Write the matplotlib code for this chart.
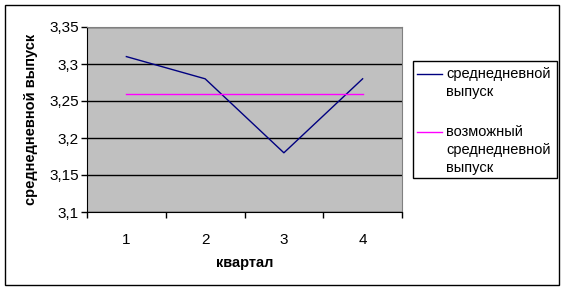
import matplotlib.pyplot as plt
from matplotlib.patches import Rectangle
from matplotlib.lines import Line2D

plt.rcParams['font.family'] = ['Liberation Sans', 'DejaVu Sans']

quarters = [1, 2, 3, 4]
actual = [3.31, 3.28, 3.18, 3.28]
possible = [3.26, 3.26, 3.26, 3.26]
yticks = [3.1, 3.15, 3.2, 3.25, 3.3, 3.35]
ytick_labels = ['3,1', '3,15', '3,2', '3,25', '3,3', '3,35']

W, H = 565, 291
fig = plt.figure(figsize=(W / 100, H / 100), dpi=100)


def fx(px):
    return px / W


def fy(py):
    return 1 - py / H


# outer chart border
fig.patches.append(Rectangle((fx(5), fy(285)), fx(559) - fx(5), fy(5) - fy(285),
                             transform=fig.transFigure, fill=False,
                             edgecolor='black', linewidth=1))

ax = fig.add_axes([fx(87), fy(212), fx(402) - fx(87), fy(27) - fy(212)])
ax.set_facecolor('#C0C0C0')

x = range(len(quarters))
ax.plot(x, actual, color='#000080', linewidth=1)
ax.plot(x, possible, color='#FF00FF', linewidth=1)

ax.set_xlim(-0.5, len(quarters) - 0.5)
ax.set_ylim(3.1, 3.35)
ax.set_yticks(yticks)
ax.set_yticklabels(ytick_labels, fontsize=11)
ax.set_xticks([i + 0.5 for i in range(-1, len(quarters))], minor=False)
ax.set_xticklabels([])
ax.set_xticks(list(x), minor=True)
ax.set_xticklabels([str(q) for q in quarters], minor=True, fontsize=11)
ax.tick_params(axis='x', which='minor', length=0, pad=15)
ax.tick_params(axis='x', which='major', length=4, direction='out', width=1)
ax.tick_params(axis='y', length=4, direction='out', width=1, pad=2)
ax.grid(axis='y', color='black', linewidth=1)

for s in ['top', 'right']:
    ax.spines[s].set_color('#808080')
for s in ['left', 'bottom']:
    ax.spines[s].set_color('black')

ax.set_xlabel('квартал', fontsize=10.5, fontweight='bold')
ax.xaxis.set_label_coords(0.5, (212 - 256) / 185)
ax.set_ylabel('среднедневной выпуск', fontsize=10.5, fontweight='bold')
ax.yaxis.set_label_coords((38 - 87) / 315, 0.5)

# legend drawn by hand so handles align with the first text line
fig.patches.append(Rectangle((fx(413), fy(178)), fx(557) - fx(413), fy(61) - fy(178),
                             transform=fig.transFigure, fill=True, facecolor='white',
                             edgecolor='black', linewidth=1))
entries = [
    ('#000080', ['среднедневной', 'выпуск'], 74),
    ('#FF00FF', ['возможный', 'среднедневной', 'выпуск'], 132),
]
for color, lines, y0 in entries:
    fig.lines.append(Line2D([fx(417), fx(442)], [fy(y0), fy(y0)],
                            transform=fig.transFigure, color=color, linewidth=1))
    for i, t in enumerate(lines):
        fig.text(fx(446), fy(y0 + 18 * i), t, fontsize=10.5, va='center', ha='left')

fig.savefig('out.png', dpi=100)
